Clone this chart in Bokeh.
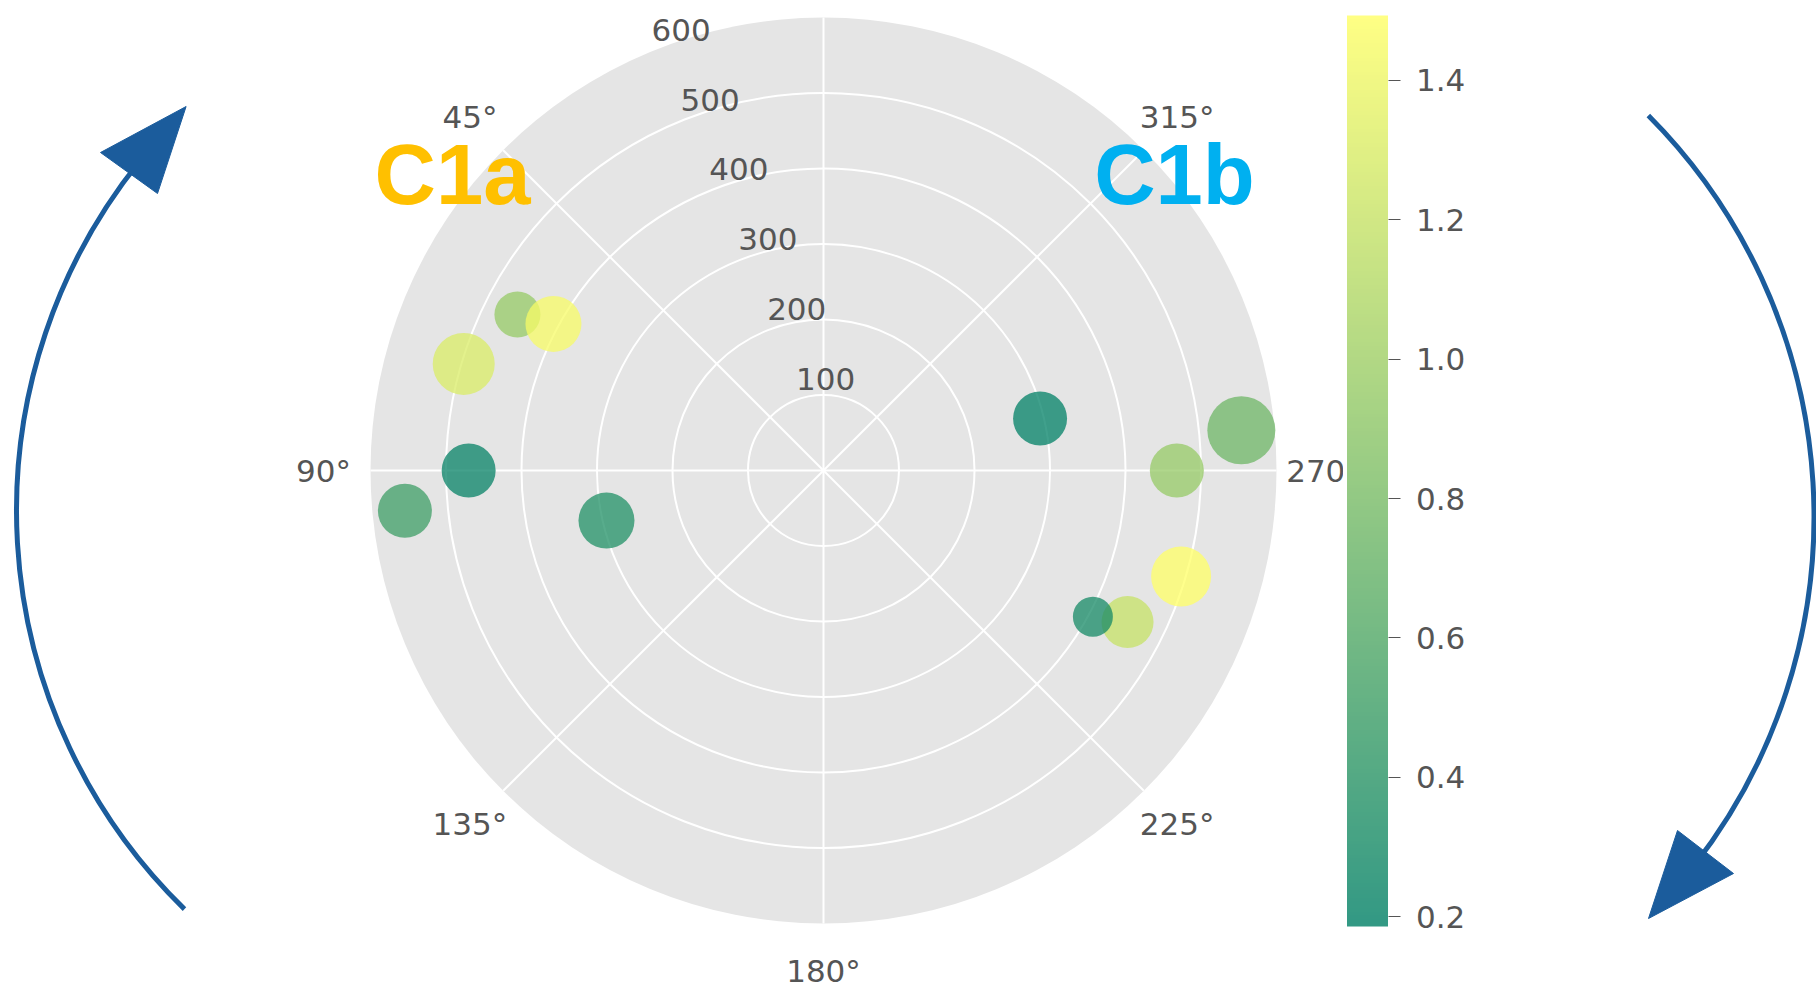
import numpy as np
from bokeh.plotting import figure
from bokeh.models import (Range1d, ColumnDataSource, LinearColorMapper, ColorBar,
                          FixedTicker, PrintfTickFormatter)
from bokeh.transform import transform
from bokeh.core.properties import value
from bokeh.embed import file_html
from bokeh.resources import INLINE

# ---------------- data ----------------
theta_deg = [63.0, 61.5, 73.5, 90.0, 95.5, 103.0, 283.5, 275.5, 270.0, 253.5, 243.5, 241.5]
radius = [455, 407, 497, 470, 557, 295, 295, 556, 468, 494, 450, 406]
color_value = [0.95, 1.45, 1.30, 0.22, 0.50, 0.35, 0.186, 0.75, 0.95, 1.493, 1.20, 0.30]
bubble_size = [46, 56, 62, 54, 54, 56, 54, 68, 54, 60, 52, 40]

r_ticks = [100, 200, 300, 400, 500, 600]
theta_ticks = [45, 90, 135, 180, 225, 270, 315]
theta_labels = ["45°", "90°", "135°", "180°", "225°", "270°", "315°"]
spoke_angles = [0, 45, 90, 135, 180, 225, 270, 315]
cbar_ticks = [0.2, 0.4, 0.6, 0.8, 1.0, 1.2, 1.4]
group_labels = ["C1a", "C1b"]
group_colors = ["#FFC000", "#00B0F0"]

# ---------------- layout helpers ----------------
W, H = 1816, 990
PX = 0.755             # screen px per radial unit
CX, CY = 823.0, 470.0  # screen position of the pole


def sx(X):
    return (X - CX) / PX


def sy(Y):
    return (CY - Y) / PX


def polar(r, t_deg):
    t = np.radians(np.asarray(t_deg, dtype=float))
    r = np.asarray(r, dtype=float)
    return -r * np.sin(t), r * np.cos(t)


p = figure(width=W, height=H, output_backend="svg", toolbar_location=None,
           x_range=Range1d(sx(0), sx(W)), y_range=Range1d(sy(H), sy(0)),
           x_axis_type=None, y_axis_type=None, min_border=0,
           outline_line_color=None, background_fill_color="white",
           border_fill_color="white")
p.grid.visible = False

FONT = value("DejaVu Sans")
GREY = "#555555"
RMAX = r_ticks[-1]

# polar background disk
p.circle(x=[0], y=[0], radius=RMAX, fill_color="#E5E5E5", line_color=None)
# rings
p.circle(x=[0] * (len(r_ticks) - 1), y=[0] * (len(r_ticks) - 1), radius=r_ticks[:-1],
         fill_color=None, line_color="white", line_width=2)
# spokes
ex, ey = polar([RMAX] * len(spoke_angles), spoke_angles)
p.segment(x0=[0] * len(spoke_angles), y0=[0] * len(spoke_angles), x1=ex, y1=ey,
          line_color="white", line_width=2)

# radial labels along 22.5 deg
rx, ry = polar(r_ticks, [22.5] * len(r_ticks))
p.text(x=rx, y=ry, text=[str(v) for v in r_ticks], x_offset=31, y_offset=-22,
       text_align="center", text_baseline="middle", text_font=FONT,
       text_font_size="31px", text_color=GREY)

# angle labels
lx, ly = polar([500 / PX] * len(theta_ticks), theta_ticks)
p.text(x=lx, y=ly, text=theta_labels, text_align="center",
       text_baseline="middle", text_font=FONT, text_font_size="31px",
       text_color=GREY)

# bubbles
palette = ["#%02x%02x%02x" % (int(round(255 * t)), int(round(255 * (0.5 + 0.5 * t))), 102)
           for t in np.linspace(0, 1, 256)]
mapper = LinearColorMapper(palette=palette, low=min(color_value), high=max(color_value))
px_, py_ = polar(radius, theta_deg)
src = ColumnDataSource(dict(x=px_, y=py_, c=color_value, s=bubble_size))
p.scatter(x="x", y="y", size="s", source=src, fill_color=transform("c", mapper),
          fill_alpha=0.75, line_color=None)

# group labels
p.text(x=[sx(452), sx(1174)], y=[sy(173.5), sy(173.5)], text=group_labels,
       text_color=group_colors, text_align="center", text_baseline="middle",
       text_font=value("Liberation Sans"), text_font_style="bold",
       text_font_size="85px")

# rotation arrows
ARROW = "#1B5C9C"
p.arc(x=[sx(573)], y=[sy(510)], radius=557 / PX, start_angle=np.radians(141),
      end_angle=np.radians(225.7), direction="anticlock", line_color=ARROW,
      line_width=5)
p.patch(x=[sx(185.6), sx(100), sx(157)], y=[sy(106), sy(152), sy(193)],
        fill_color=ARROW, line_color=ARROW, line_width=1)
p.arc(x=[sx(1245.5)], y=[sy(516)], radius=568 / PX, start_angle=np.radians(-38),
      end_angle=np.radians(44.9), direction="anticlock", line_color=ARROW,
      line_width=5)
p.patch(x=[sx(1648), sx(1677), sx(1733)], y=[sy(918), sy(830), sy(873)],
        fill_color=ARROW, line_color=ARROW, line_width=1)

# colour bar
cbar = ColorBar(color_mapper=mapper, orientation="vertical",
                location=(1346.5 - 4, H - 926 - 4), width=41, height=911,
                padding=4, margin=0, scale_alpha=0.8,
                ticker=FixedTicker(ticks=cbar_ticks),
                formatter=PrintfTickFormatter(format="%.1f"),
                major_label_text_font="DejaVu Sans", major_label_text_font_size="31px",
                major_label_text_color=GREY, major_tick_out=12, major_tick_in=0,
                major_tick_line_color=GREY, major_tick_line_width=1,
                minor_tick_line_color=None, label_standoff=16,
                bar_line_color=None, border_line_color=None,
                background_fill_color="white", background_fill_alpha=1.0)
p.add_layout(cbar)

open("out.html", "w").write(file_html(p, INLINE))
